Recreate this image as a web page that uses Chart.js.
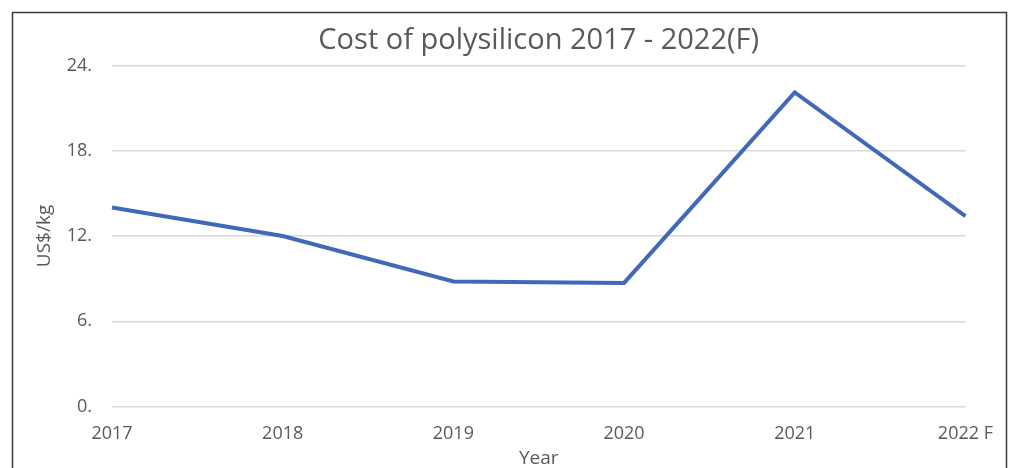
<!DOCTYPE html>
<html>
<head>
<meta charset="utf-8">
<script src="https://cdn.jsdelivr.net/npm/chart.js@4/dist/chart.umd.min.js"></script>
<style>
  html, body { margin: 0; padding: 0; background: #fff; }
  #wrap { width: 1010px; height: 468px; }
</style>
</head>
<body>
<div id="wrap"><canvas id="cost-chart" width="1010" height="468"></canvas></div>
<script>
const years = ["2017", "2018", "2019", "2020", "2021", "2022 F"];
const costPerKg = [14.0, 12.0, 8.8, 8.7, 22.1, 13.4];
const yTicks = [0, 6, 12, 18, 24];

const FONT = "'Open Sans', sans-serif";
const GREY = "#595959";

// thin frame round the whole chart, bottom edge runs off the picture
const framePlugin = {
  id: "frame",
  afterLayout(chart) {
    // centre the title over the plot area, not the whole canvas
    const t = chart.titleBlock;
    if (t) {
      t.left = chart.chartArea.left;
      t.right = chart.chartArea.right;
      t.width = t.right - t.left;
    }
  },
  afterDraw(chart) {
    const c = chart.ctx;
    c.save();
    c.strokeStyle = "#3a3a3a";
    c.lineWidth = 1.5;
    c.beginPath();
    c.moveTo(12.5, 470);
    c.lineTo(12.5, 12.5);
    c.lineTo(1006.5, 12.5);
    c.lineTo(1006.5, 470);
    c.stroke();
    c.restore();
  },
};

const ctx = document.getElementById("cost-chart").getContext("2d");
const chart = new Chart(ctx, {
  type: "line",
  data: {
    labels: years,
    datasets: [
      {
        label: "Cost of polysilicon",
        data: costPerKg,
        borderColor: "#4169b8",
        borderWidth: 4,
        pointRadius: 0,
        tension: 0,
      },
    ],
  },
  options: {
    responsive: false,
    animation: false,
    layout: { padding: { left: 0, right: 44, top: 0, bottom: 0 } },
    plugins: {
      legend: { display: false },
      tooltip: { enabled: false },
      title: {
        display: true,
        text: "Cost of polysilicon 2017 - 2022(F)",
        color: GREY,
        font: { family: FONT, size: 29, weight: "normal", lineHeight: 1.2 },
        padding: { top: 23.1, bottom: 7.6 },
      },
    },
    scales: {
      x: {
        offset: false,
        grid: { display: false, drawTicks: false },
        border: { display: false },
        ticks: {
          color: GREY,
          font: { family: FONT, size: 18 },
          padding: 17,
          maxRotation: 0,
          autoSkip: false,
        },
        title: {
          display: true,
          text: "Year",
          color: GREY,
          font: { family: FONT, size: 19, lineHeight: 1 },
          padding: { top: 0, bottom: 0 },
        },
        afterFit: (scale) => { scale.height = 61.5; },
      },
      y: {
        min: 0,
        max: 24,
        afterBuildTicks: (scale) => { scale.ticks = yTicks.map((v) => ({ value: v })); },
        grid: { color: "#d9d9d9", lineWidth: 1.5, drawTicks: false },
        border: { display: false },
        ticks: {
          color: GREY,
          font: { family: FONT, size: 18 },
          padding: 20,
          callback: (v) => `${v}.`,
        },
        title: {
          display: true,
          text: "US$/kg",
          color: GREY,
          font: { family: FONT, size: 19, lineHeight: 1.2 },
          padding: { top: 33, bottom: 0 },
        },
        afterFit: (scale) => { scale.width = 112; },
      },
    },
  },
  plugins: [framePlugin],
});
</script>
</body>
</html>
